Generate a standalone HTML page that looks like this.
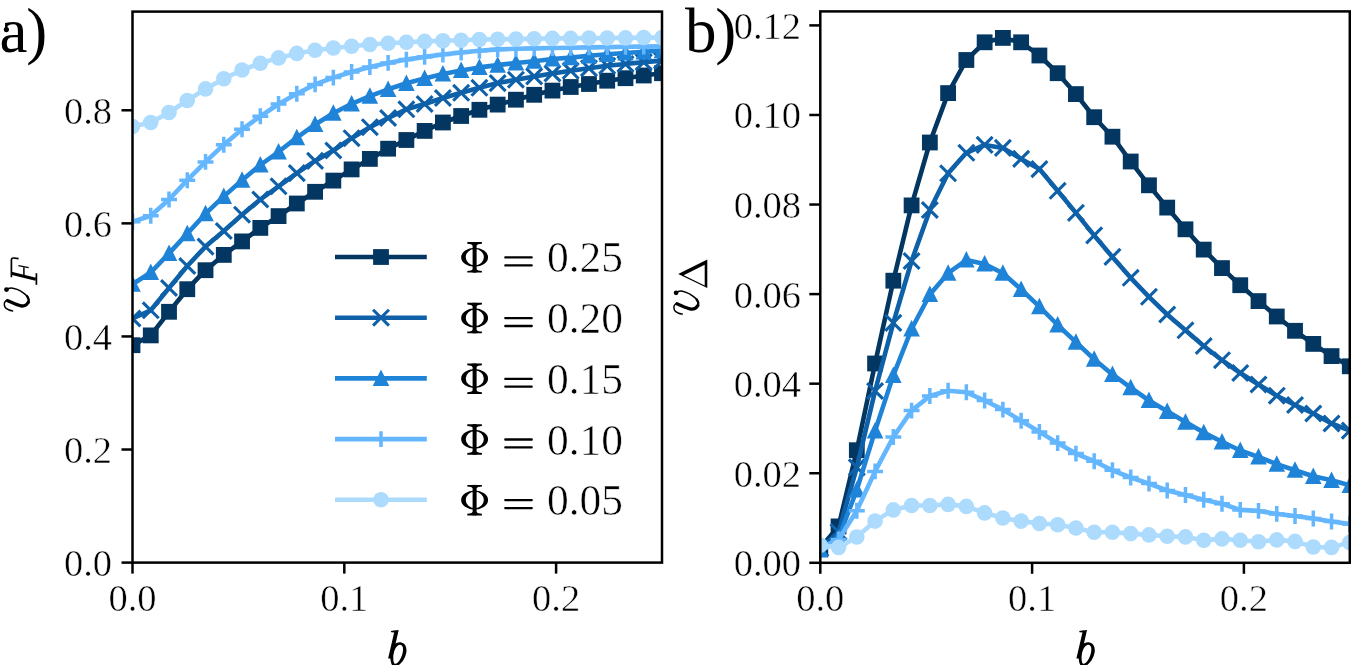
<!DOCTYPE html>
<html><head><meta charset="utf-8"><style>html,body{margin:0;padding:0;background:#fff;overflow:hidden}
svg{display:block;will-change:transform}
text{font-family:"Liberation Serif",serif;fill:#000}
.t{font-size:38.5px;stroke:#fff;stroke-width:0.5px}
.lg{font-size:43.5px;stroke:#fff;stroke-width:0.55px}
.pl{font-size:63px;letter-spacing:-1.2px}
.al{font-size:55px;font-style:italic}
.sub{font-size:40px;font-style:italic}
.subr{font-size:40px}
</style></head><body>
<svg width="1351" height="665" viewBox="0 0 1351 665">
<defs><clipPath id="ca"><rect x="132.5" y="11.6" width="529.5" height="551"/></clipPath>
<clipPath id="cb"><rect x="820.3" y="11.4" width="529.5" height="551.4"/></clipPath></defs>
<rect width="1351" height="665" fill="#fff"/>
<g clip-path="url(#ca)">
<polyline points="132.5,345.2 150.76,335.4 169.02,311.8 187.28,289.2 205.53,270.2 223.79,254.9 242.05,241.4 260.31,227.9 278.57,216.1 296.83,203.5 315.09,191.8 333.34,180.6 351.6,169.4 369.86,158.9 388.12,148.7 406.38,140 424.64,130.9 442.9,122.5 461.16,116 479.41,109.8 497.67,104.6 515.93,99.7 534.19,94.8 552.45,90.6 570.71,87 588.97,84 607.22,80.7 625.48,78.2 643.74,75.5 662,73.2" fill="none" stroke="#033661" stroke-width="4.6" stroke-linejoin="round"/>
<rect x="124.6" y="337.3" width="15.8" height="15.8" fill="#033661"/>
<rect x="142.86" y="327.5" width="15.8" height="15.8" fill="#033661"/>
<rect x="161.12" y="303.9" width="15.8" height="15.8" fill="#033661"/>
<rect x="179.38" y="281.3" width="15.8" height="15.8" fill="#033661"/>
<rect x="197.63" y="262.3" width="15.8" height="15.8" fill="#033661"/>
<rect x="215.89" y="247" width="15.8" height="15.8" fill="#033661"/>
<rect x="234.15" y="233.5" width="15.8" height="15.8" fill="#033661"/>
<rect x="252.41" y="220" width="15.8" height="15.8" fill="#033661"/>
<rect x="270.67" y="208.2" width="15.8" height="15.8" fill="#033661"/>
<rect x="288.93" y="195.6" width="15.8" height="15.8" fill="#033661"/>
<rect x="307.19" y="183.9" width="15.8" height="15.8" fill="#033661"/>
<rect x="325.44" y="172.7" width="15.8" height="15.8" fill="#033661"/>
<rect x="343.7" y="161.5" width="15.8" height="15.8" fill="#033661"/>
<rect x="361.96" y="151" width="15.8" height="15.8" fill="#033661"/>
<rect x="380.22" y="140.8" width="15.8" height="15.8" fill="#033661"/>
<rect x="398.48" y="132.1" width="15.8" height="15.8" fill="#033661"/>
<rect x="416.74" y="123" width="15.8" height="15.8" fill="#033661"/>
<rect x="435" y="114.6" width="15.8" height="15.8" fill="#033661"/>
<rect x="453.26" y="108.1" width="15.8" height="15.8" fill="#033661"/>
<rect x="471.51" y="101.9" width="15.8" height="15.8" fill="#033661"/>
<rect x="489.77" y="96.7" width="15.8" height="15.8" fill="#033661"/>
<rect x="508.03" y="91.8" width="15.8" height="15.8" fill="#033661"/>
<rect x="526.29" y="86.9" width="15.8" height="15.8" fill="#033661"/>
<rect x="544.55" y="82.7" width="15.8" height="15.8" fill="#033661"/>
<rect x="562.81" y="79.1" width="15.8" height="15.8" fill="#033661"/>
<rect x="581.07" y="76.1" width="15.8" height="15.8" fill="#033661"/>
<rect x="599.32" y="72.8" width="15.8" height="15.8" fill="#033661"/>
<rect x="617.58" y="70.3" width="15.8" height="15.8" fill="#033661"/>
<rect x="635.84" y="67.6" width="15.8" height="15.8" fill="#033661"/>
<rect x="654.1" y="65.3" width="15.8" height="15.8" fill="#033661"/>
<polyline points="132.5,318.5 150.76,310.3 169.02,288 187.28,266 205.53,246.6 223.79,231 242.05,214.7 260.31,199.5 278.57,186.3 296.83,173.1 315.09,160.9 333.34,150.5 351.6,138.2 369.86,127.2 388.12,118 406.38,109.3 424.64,104 442.9,98 461.16,92.8 479.41,87.8 497.67,83.1 515.93,79.7 534.19,76.4 552.45,73.5 570.71,70.8 588.97,68.2 607.22,65.8 625.48,64 643.74,62.1 662,60.6" fill="none" stroke="#0e60a8" stroke-width="4.6" stroke-linejoin="round"/>
<path d="M124.55 310.55L140.45 326.45M124.55 326.45L140.45 310.55" stroke="#0e60a8" stroke-width="3.1" fill="none"/>
<path d="M142.81 302.35L158.71 318.25M142.81 318.25L158.71 302.35" stroke="#0e60a8" stroke-width="3.1" fill="none"/>
<path d="M161.07 280.05L176.97 295.95M161.07 295.95L176.97 280.05" stroke="#0e60a8" stroke-width="3.1" fill="none"/>
<path d="M179.33 258.05L195.23 273.95M179.33 273.95L195.23 258.05" stroke="#0e60a8" stroke-width="3.1" fill="none"/>
<path d="M197.58 238.65L213.48 254.55M197.58 254.55L213.48 238.65" stroke="#0e60a8" stroke-width="3.1" fill="none"/>
<path d="M215.84 223.05L231.74 238.95M215.84 238.95L231.74 223.05" stroke="#0e60a8" stroke-width="3.1" fill="none"/>
<path d="M234.1 206.75L250 222.65M234.1 222.65L250 206.75" stroke="#0e60a8" stroke-width="3.1" fill="none"/>
<path d="M252.36 191.55L268.26 207.45M252.36 207.45L268.26 191.55" stroke="#0e60a8" stroke-width="3.1" fill="none"/>
<path d="M270.62 178.35L286.52 194.25M270.62 194.25L286.52 178.35" stroke="#0e60a8" stroke-width="3.1" fill="none"/>
<path d="M288.88 165.15L304.78 181.05M288.88 181.05L304.78 165.15" stroke="#0e60a8" stroke-width="3.1" fill="none"/>
<path d="M307.14 152.95L323.04 168.85M307.14 168.85L323.04 152.95" stroke="#0e60a8" stroke-width="3.1" fill="none"/>
<path d="M325.39 142.55L341.29 158.45M325.39 158.45L341.29 142.55" stroke="#0e60a8" stroke-width="3.1" fill="none"/>
<path d="M343.65 130.25L359.55 146.15M343.65 146.15L359.55 130.25" stroke="#0e60a8" stroke-width="3.1" fill="none"/>
<path d="M361.91 119.25L377.81 135.15M361.91 135.15L377.81 119.25" stroke="#0e60a8" stroke-width="3.1" fill="none"/>
<path d="M380.17 110.05L396.07 125.95M380.17 125.95L396.07 110.05" stroke="#0e60a8" stroke-width="3.1" fill="none"/>
<path d="M398.43 101.35L414.33 117.25M398.43 117.25L414.33 101.35" stroke="#0e60a8" stroke-width="3.1" fill="none"/>
<path d="M416.69 96.05L432.59 111.95M416.69 111.95L432.59 96.05" stroke="#0e60a8" stroke-width="3.1" fill="none"/>
<path d="M434.95 90.05L450.85 105.95M434.95 105.95L450.85 90.05" stroke="#0e60a8" stroke-width="3.1" fill="none"/>
<path d="M453.21 84.85L469.11 100.75M453.21 100.75L469.11 84.85" stroke="#0e60a8" stroke-width="3.1" fill="none"/>
<path d="M471.46 79.85L487.36 95.75M471.46 95.75L487.36 79.85" stroke="#0e60a8" stroke-width="3.1" fill="none"/>
<path d="M489.72 75.15L505.62 91.05M489.72 91.05L505.62 75.15" stroke="#0e60a8" stroke-width="3.1" fill="none"/>
<path d="M507.98 71.75L523.88 87.65M507.98 87.65L523.88 71.75" stroke="#0e60a8" stroke-width="3.1" fill="none"/>
<path d="M526.24 68.45L542.14 84.35M526.24 84.35L542.14 68.45" stroke="#0e60a8" stroke-width="3.1" fill="none"/>
<path d="M544.5 65.55L560.4 81.45M544.5 81.45L560.4 65.55" stroke="#0e60a8" stroke-width="3.1" fill="none"/>
<path d="M562.76 62.85L578.66 78.75M562.76 78.75L578.66 62.85" stroke="#0e60a8" stroke-width="3.1" fill="none"/>
<path d="M581.02 60.25L596.92 76.15M581.02 76.15L596.92 60.25" stroke="#0e60a8" stroke-width="3.1" fill="none"/>
<path d="M599.27 57.85L615.17 73.75M599.27 73.75L615.17 57.85" stroke="#0e60a8" stroke-width="3.1" fill="none"/>
<path d="M617.53 56.05L633.43 71.95M617.53 71.95L633.43 56.05" stroke="#0e60a8" stroke-width="3.1" fill="none"/>
<path d="M635.79 54.15L651.69 70.05M635.79 70.05L651.69 54.15" stroke="#0e60a8" stroke-width="3.1" fill="none"/>
<path d="M654.05 52.65L669.95 68.55M654.05 68.55L669.95 52.65" stroke="#0e60a8" stroke-width="3.1" fill="none"/>
<polyline points="132.5,284.2 150.76,272.5 169.02,253.3 187.28,233.6 205.53,213.7 223.79,196.4 242.05,180.2 260.31,165 278.57,151.8 296.83,137.6 315.09,124.5 333.34,113.2 351.6,103.8 369.86,96.1 388.12,89.3 406.38,83.3 424.64,78.4 442.9,74 461.16,70.5 479.41,67.4 497.67,65.1 515.93,63 534.19,61.2 552.45,59 570.71,57.6 588.97,55.8 607.22,54.3 625.48,53 643.74,51.8 662,50.6" fill="none" stroke="#1f83d8" stroke-width="4.6" stroke-linejoin="round"/>
<path d="M132.5 275.3L140.8 291.8L124.2 291.8Z" fill="#1f83d8"/>
<path d="M150.76 263.6L159.06 280.1L142.46 280.1Z" fill="#1f83d8"/>
<path d="M169.02 244.4L177.32 260.9L160.72 260.9Z" fill="#1f83d8"/>
<path d="M187.28 224.7L195.58 241.2L178.98 241.2Z" fill="#1f83d8"/>
<path d="M205.53 204.8L213.83 221.3L197.23 221.3Z" fill="#1f83d8"/>
<path d="M223.79 187.5L232.09 204L215.49 204Z" fill="#1f83d8"/>
<path d="M242.05 171.3L250.35 187.8L233.75 187.8Z" fill="#1f83d8"/>
<path d="M260.31 156.1L268.61 172.6L252.01 172.6Z" fill="#1f83d8"/>
<path d="M278.57 142.9L286.87 159.4L270.27 159.4Z" fill="#1f83d8"/>
<path d="M296.83 128.7L305.13 145.2L288.53 145.2Z" fill="#1f83d8"/>
<path d="M315.09 115.6L323.39 132.1L306.79 132.1Z" fill="#1f83d8"/>
<path d="M333.34 104.3L341.64 120.8L325.04 120.8Z" fill="#1f83d8"/>
<path d="M351.6 94.9L359.9 111.4L343.3 111.4Z" fill="#1f83d8"/>
<path d="M369.86 87.2L378.16 103.7L361.56 103.7Z" fill="#1f83d8"/>
<path d="M388.12 80.4L396.42 96.9L379.82 96.9Z" fill="#1f83d8"/>
<path d="M406.38 74.4L414.68 90.9L398.08 90.9Z" fill="#1f83d8"/>
<path d="M424.64 69.5L432.94 86L416.34 86Z" fill="#1f83d8"/>
<path d="M442.9 65.1L451.2 81.6L434.6 81.6Z" fill="#1f83d8"/>
<path d="M461.16 61.6L469.46 78.1L452.86 78.1Z" fill="#1f83d8"/>
<path d="M479.41 58.5L487.71 75L471.11 75Z" fill="#1f83d8"/>
<path d="M497.67 56.2L505.97 72.7L489.37 72.7Z" fill="#1f83d8"/>
<path d="M515.93 54.1L524.23 70.6L507.63 70.6Z" fill="#1f83d8"/>
<path d="M534.19 52.3L542.49 68.8L525.89 68.8Z" fill="#1f83d8"/>
<path d="M552.45 50.1L560.75 66.6L544.15 66.6Z" fill="#1f83d8"/>
<path d="M570.71 48.7L579.01 65.2L562.41 65.2Z" fill="#1f83d8"/>
<path d="M588.97 46.9L597.27 63.4L580.67 63.4Z" fill="#1f83d8"/>
<path d="M607.22 45.4L615.52 61.9L598.92 61.9Z" fill="#1f83d8"/>
<path d="M625.48 44.1L633.78 60.6L617.18 60.6Z" fill="#1f83d8"/>
<path d="M643.74 42.9L652.04 59.4L635.44 59.4Z" fill="#1f83d8"/>
<path d="M662 41.7L670.3 58.2L653.7 58.2Z" fill="#1f83d8"/>
<polyline points="132.5,221.8 150.76,215.7 169.02,199.5 187.28,180.2 205.53,161.9 223.79,144.7 242.05,129.3 260.31,116.3 278.57,104 296.83,93.8 315.09,84.4 333.34,77.6 351.6,72 369.86,67 388.12,62.9 406.38,59.6 424.64,56.9 442.9,54.5 461.16,52.5 479.41,50.8 497.67,49.4 515.93,48.8 534.19,48.4 552.45,48 570.71,47.7 588.97,47.4 607.22,47.1 625.48,46.8 643.74,46.6 662,46.4" fill="none" stroke="#64b6fe" stroke-width="4.6" stroke-linejoin="round"/>
<path d="M124.55 221.8L140.45 221.8M132.5 213.85L132.5 229.75" stroke="#64b6fe" stroke-width="3.5" fill="none"/>
<path d="M142.81 215.7L158.71 215.7M150.76 207.75L150.76 223.65" stroke="#64b6fe" stroke-width="3.5" fill="none"/>
<path d="M161.07 199.5L176.97 199.5M169.02 191.55L169.02 207.45" stroke="#64b6fe" stroke-width="3.5" fill="none"/>
<path d="M179.33 180.2L195.23 180.2M187.28 172.25L187.28 188.15" stroke="#64b6fe" stroke-width="3.5" fill="none"/>
<path d="M197.58 161.9L213.48 161.9M205.53 153.95L205.53 169.85" stroke="#64b6fe" stroke-width="3.5" fill="none"/>
<path d="M215.84 144.7L231.74 144.7M223.79 136.75L223.79 152.65" stroke="#64b6fe" stroke-width="3.5" fill="none"/>
<path d="M234.1 129.3L250 129.3M242.05 121.35L242.05 137.25" stroke="#64b6fe" stroke-width="3.5" fill="none"/>
<path d="M252.36 116.3L268.26 116.3M260.31 108.35L260.31 124.25" stroke="#64b6fe" stroke-width="3.5" fill="none"/>
<path d="M270.62 104L286.52 104M278.57 96.05L278.57 111.95" stroke="#64b6fe" stroke-width="3.5" fill="none"/>
<path d="M288.88 93.8L304.78 93.8M296.83 85.85L296.83 101.75" stroke="#64b6fe" stroke-width="3.5" fill="none"/>
<path d="M307.14 84.4L323.04 84.4M315.09 76.45L315.09 92.35" stroke="#64b6fe" stroke-width="3.5" fill="none"/>
<path d="M325.39 77.6L341.29 77.6M333.34 69.65L333.34 85.55" stroke="#64b6fe" stroke-width="3.5" fill="none"/>
<path d="M343.65 72L359.55 72M351.6 64.05L351.6 79.95" stroke="#64b6fe" stroke-width="3.5" fill="none"/>
<path d="M361.91 67L377.81 67M369.86 59.05L369.86 74.95" stroke="#64b6fe" stroke-width="3.5" fill="none"/>
<path d="M380.17 62.9L396.07 62.9M388.12 54.95L388.12 70.85" stroke="#64b6fe" stroke-width="3.5" fill="none"/>
<path d="M398.43 59.6L414.33 59.6M406.38 51.65L406.38 67.55" stroke="#64b6fe" stroke-width="3.5" fill="none"/>
<path d="M416.69 56.9L432.59 56.9M424.64 48.95L424.64 64.85" stroke="#64b6fe" stroke-width="3.5" fill="none"/>
<path d="M434.95 54.5L450.85 54.5M442.9 46.55L442.9 62.45" stroke="#64b6fe" stroke-width="3.5" fill="none"/>
<path d="M453.21 52.5L469.11 52.5M461.16 44.55L461.16 60.45" stroke="#64b6fe" stroke-width="3.5" fill="none"/>
<path d="M471.46 50.8L487.36 50.8M479.41 42.85L479.41 58.75" stroke="#64b6fe" stroke-width="3.5" fill="none"/>
<path d="M489.72 49.4L505.62 49.4M497.67 41.45L497.67 57.35" stroke="#64b6fe" stroke-width="3.5" fill="none"/>
<path d="M507.98 48.8L523.88 48.8M515.93 40.85L515.93 56.75" stroke="#64b6fe" stroke-width="3.5" fill="none"/>
<path d="M526.24 48.4L542.14 48.4M534.19 40.45L534.19 56.35" stroke="#64b6fe" stroke-width="3.5" fill="none"/>
<path d="M544.5 48L560.4 48M552.45 40.05L552.45 55.95" stroke="#64b6fe" stroke-width="3.5" fill="none"/>
<path d="M562.76 47.7L578.66 47.7M570.71 39.75L570.71 55.65" stroke="#64b6fe" stroke-width="3.5" fill="none"/>
<path d="M581.02 47.4L596.92 47.4M588.97 39.45L588.97 55.35" stroke="#64b6fe" stroke-width="3.5" fill="none"/>
<path d="M599.27 47.1L615.17 47.1M607.22 39.15L607.22 55.05" stroke="#64b6fe" stroke-width="3.5" fill="none"/>
<path d="M617.53 46.8L633.43 46.8M625.48 38.85L625.48 54.75" stroke="#64b6fe" stroke-width="3.5" fill="none"/>
<path d="M635.79 46.6L651.69 46.6M643.74 38.65L643.74 54.55" stroke="#64b6fe" stroke-width="3.5" fill="none"/>
<path d="M654.05 46.4L669.95 46.4M662 38.45L662 54.35" stroke="#64b6fe" stroke-width="3.5" fill="none"/>
<polyline points="132.5,126.6 150.76,122.5 169.02,112.5 187.28,100.5 205.53,88.9 223.79,78.8 242.05,70 260.31,63.3 278.57,57.9 296.83,53.4 315.09,50.3 333.34,48 351.6,46.2 369.86,44.5 388.12,43.3 406.38,42.3 424.64,41.4 442.9,40.7 461.16,40.2 479.41,39.5 497.67,39.2 515.93,39.1 534.19,38.7 552.45,38.4 570.71,38.4 588.97,38.1 607.22,38.1 625.48,37.9 643.74,37.6 662,37.6" fill="none" stroke="#acdbfe" stroke-width="4.6" stroke-linejoin="round"/>
<circle cx="132.5" cy="126.6" r="7.8" fill="#acdbfe"/>
<circle cx="150.76" cy="122.5" r="7.8" fill="#acdbfe"/>
<circle cx="169.02" cy="112.5" r="7.8" fill="#acdbfe"/>
<circle cx="187.28" cy="100.5" r="7.8" fill="#acdbfe"/>
<circle cx="205.53" cy="88.9" r="7.8" fill="#acdbfe"/>
<circle cx="223.79" cy="78.8" r="7.8" fill="#acdbfe"/>
<circle cx="242.05" cy="70" r="7.8" fill="#acdbfe"/>
<circle cx="260.31" cy="63.3" r="7.8" fill="#acdbfe"/>
<circle cx="278.57" cy="57.9" r="7.8" fill="#acdbfe"/>
<circle cx="296.83" cy="53.4" r="7.8" fill="#acdbfe"/>
<circle cx="315.09" cy="50.3" r="7.8" fill="#acdbfe"/>
<circle cx="333.34" cy="48" r="7.8" fill="#acdbfe"/>
<circle cx="351.6" cy="46.2" r="7.8" fill="#acdbfe"/>
<circle cx="369.86" cy="44.5" r="7.8" fill="#acdbfe"/>
<circle cx="388.12" cy="43.3" r="7.8" fill="#acdbfe"/>
<circle cx="406.38" cy="42.3" r="7.8" fill="#acdbfe"/>
<circle cx="424.64" cy="41.4" r="7.8" fill="#acdbfe"/>
<circle cx="442.9" cy="40.7" r="7.8" fill="#acdbfe"/>
<circle cx="461.16" cy="40.2" r="7.8" fill="#acdbfe"/>
<circle cx="479.41" cy="39.5" r="7.8" fill="#acdbfe"/>
<circle cx="497.67" cy="39.2" r="7.8" fill="#acdbfe"/>
<circle cx="515.93" cy="39.1" r="7.8" fill="#acdbfe"/>
<circle cx="534.19" cy="38.7" r="7.8" fill="#acdbfe"/>
<circle cx="552.45" cy="38.4" r="7.8" fill="#acdbfe"/>
<circle cx="570.71" cy="38.4" r="7.8" fill="#acdbfe"/>
<circle cx="588.97" cy="38.1" r="7.8" fill="#acdbfe"/>
<circle cx="607.22" cy="38.1" r="7.8" fill="#acdbfe"/>
<circle cx="625.48" cy="37.9" r="7.8" fill="#acdbfe"/>
<circle cx="643.74" cy="37.6" r="7.8" fill="#acdbfe"/>
<circle cx="662" cy="37.6" r="7.8" fill="#acdbfe"/>
</g>
<g clip-path="url(#cb)">
<polyline points="820.3,548 838.56,526.4 856.82,450.2 875.08,363.5 893.33,280.7 911.59,205.4 929.85,142.5 948.11,93.1 966.37,60 984.63,42.3 1002.89,37.9 1021.14,42.3 1039.4,55.5 1057.66,73.2 1075.92,94.1 1094.18,117.2 1112.44,136.7 1130.7,161.5 1148.96,185.3 1167.21,207.6 1185.47,229.3 1203.73,249.6 1221.99,268.1 1240.25,285.2 1258.51,301.1 1276.77,316.5 1295.02,330.8 1313.28,343.9 1331.54,356.1 1349.8,366.3" fill="none" stroke="#033661" stroke-width="4.6" stroke-linejoin="round"/>
<rect x="812.4" y="540.1" width="15.8" height="15.8" fill="#033661"/>
<rect x="830.66" y="518.5" width="15.8" height="15.8" fill="#033661"/>
<rect x="848.92" y="442.3" width="15.8" height="15.8" fill="#033661"/>
<rect x="867.18" y="355.6" width="15.8" height="15.8" fill="#033661"/>
<rect x="885.43" y="272.8" width="15.8" height="15.8" fill="#033661"/>
<rect x="903.69" y="197.5" width="15.8" height="15.8" fill="#033661"/>
<rect x="921.95" y="134.6" width="15.8" height="15.8" fill="#033661"/>
<rect x="940.21" y="85.2" width="15.8" height="15.8" fill="#033661"/>
<rect x="958.47" y="52.1" width="15.8" height="15.8" fill="#033661"/>
<rect x="976.73" y="34.4" width="15.8" height="15.8" fill="#033661"/>
<rect x="994.99" y="30" width="15.8" height="15.8" fill="#033661"/>
<rect x="1013.24" y="34.4" width="15.8" height="15.8" fill="#033661"/>
<rect x="1031.5" y="47.6" width="15.8" height="15.8" fill="#033661"/>
<rect x="1049.76" y="65.3" width="15.8" height="15.8" fill="#033661"/>
<rect x="1068.02" y="86.2" width="15.8" height="15.8" fill="#033661"/>
<rect x="1086.28" y="109.3" width="15.8" height="15.8" fill="#033661"/>
<rect x="1104.54" y="128.8" width="15.8" height="15.8" fill="#033661"/>
<rect x="1122.8" y="153.6" width="15.8" height="15.8" fill="#033661"/>
<rect x="1141.06" y="177.4" width="15.8" height="15.8" fill="#033661"/>
<rect x="1159.31" y="199.7" width="15.8" height="15.8" fill="#033661"/>
<rect x="1177.57" y="221.4" width="15.8" height="15.8" fill="#033661"/>
<rect x="1195.83" y="241.7" width="15.8" height="15.8" fill="#033661"/>
<rect x="1214.09" y="260.2" width="15.8" height="15.8" fill="#033661"/>
<rect x="1232.35" y="277.3" width="15.8" height="15.8" fill="#033661"/>
<rect x="1250.61" y="293.2" width="15.8" height="15.8" fill="#033661"/>
<rect x="1268.87" y="308.6" width="15.8" height="15.8" fill="#033661"/>
<rect x="1287.12" y="322.9" width="15.8" height="15.8" fill="#033661"/>
<rect x="1305.38" y="336" width="15.8" height="15.8" fill="#033661"/>
<rect x="1323.64" y="348.2" width="15.8" height="15.8" fill="#033661"/>
<rect x="1341.9" y="358.4" width="15.8" height="15.8" fill="#033661"/>
<polyline points="820.3,548.5 838.56,532 856.82,467.4 875.08,391 893.33,322.9 911.59,261 929.85,210 948.11,173.3 966.37,152.8 984.63,144.9 1002.89,147.9 1021.14,158.9 1039.4,169.1 1057.66,190.8 1075.92,212.9 1094.18,235.4 1112.44,256.9 1130.7,277.8 1148.96,296.8 1167.21,314.5 1185.47,330.3 1203.73,346 1221.99,360.2 1240.25,373 1258.51,384.5 1276.77,395.7 1295.02,405 1313.28,413.5 1331.54,423.5 1349.8,430.6" fill="none" stroke="#0e60a8" stroke-width="4.6" stroke-linejoin="round"/>
<path d="M812.35 540.55L828.25 556.45M812.35 556.45L828.25 540.55" stroke="#0e60a8" stroke-width="3.1" fill="none"/>
<path d="M830.61 524.05L846.51 539.95M830.61 539.95L846.51 524.05" stroke="#0e60a8" stroke-width="3.1" fill="none"/>
<path d="M848.87 459.45L864.77 475.35M848.87 475.35L864.77 459.45" stroke="#0e60a8" stroke-width="3.1" fill="none"/>
<path d="M867.13 383.05L883.03 398.95M867.13 398.95L883.03 383.05" stroke="#0e60a8" stroke-width="3.1" fill="none"/>
<path d="M885.38 314.95L901.28 330.85M885.38 330.85L901.28 314.95" stroke="#0e60a8" stroke-width="3.1" fill="none"/>
<path d="M903.64 253.05L919.54 268.95M903.64 268.95L919.54 253.05" stroke="#0e60a8" stroke-width="3.1" fill="none"/>
<path d="M921.9 202.05L937.8 217.95M921.9 217.95L937.8 202.05" stroke="#0e60a8" stroke-width="3.1" fill="none"/>
<path d="M940.16 165.35L956.06 181.25M940.16 181.25L956.06 165.35" stroke="#0e60a8" stroke-width="3.1" fill="none"/>
<path d="M958.42 144.85L974.32 160.75M958.42 160.75L974.32 144.85" stroke="#0e60a8" stroke-width="3.1" fill="none"/>
<path d="M976.68 136.95L992.58 152.85M976.68 152.85L992.58 136.95" stroke="#0e60a8" stroke-width="3.1" fill="none"/>
<path d="M994.94 139.95L1010.84 155.85M994.94 155.85L1010.84 139.95" stroke="#0e60a8" stroke-width="3.1" fill="none"/>
<path d="M1013.19 150.95L1029.09 166.85M1013.19 166.85L1029.09 150.95" stroke="#0e60a8" stroke-width="3.1" fill="none"/>
<path d="M1031.45 161.15L1047.35 177.05M1031.45 177.05L1047.35 161.15" stroke="#0e60a8" stroke-width="3.1" fill="none"/>
<path d="M1049.71 182.85L1065.61 198.75M1049.71 198.75L1065.61 182.85" stroke="#0e60a8" stroke-width="3.1" fill="none"/>
<path d="M1067.97 204.95L1083.87 220.85M1067.97 220.85L1083.87 204.95" stroke="#0e60a8" stroke-width="3.1" fill="none"/>
<path d="M1086.23 227.45L1102.13 243.35M1086.23 243.35L1102.13 227.45" stroke="#0e60a8" stroke-width="3.1" fill="none"/>
<path d="M1104.49 248.95L1120.39 264.85M1104.49 264.85L1120.39 248.95" stroke="#0e60a8" stroke-width="3.1" fill="none"/>
<path d="M1122.75 269.85L1138.65 285.75M1122.75 285.75L1138.65 269.85" stroke="#0e60a8" stroke-width="3.1" fill="none"/>
<path d="M1141.01 288.85L1156.91 304.75M1141.01 304.75L1156.91 288.85" stroke="#0e60a8" stroke-width="3.1" fill="none"/>
<path d="M1159.26 306.55L1175.16 322.45M1159.26 322.45L1175.16 306.55" stroke="#0e60a8" stroke-width="3.1" fill="none"/>
<path d="M1177.52 322.35L1193.42 338.25M1177.52 338.25L1193.42 322.35" stroke="#0e60a8" stroke-width="3.1" fill="none"/>
<path d="M1195.78 338.05L1211.68 353.95M1195.78 353.95L1211.68 338.05" stroke="#0e60a8" stroke-width="3.1" fill="none"/>
<path d="M1214.04 352.25L1229.94 368.15M1214.04 368.15L1229.94 352.25" stroke="#0e60a8" stroke-width="3.1" fill="none"/>
<path d="M1232.3 365.05L1248.2 380.95M1232.3 380.95L1248.2 365.05" stroke="#0e60a8" stroke-width="3.1" fill="none"/>
<path d="M1250.56 376.55L1266.46 392.45M1250.56 392.45L1266.46 376.55" stroke="#0e60a8" stroke-width="3.1" fill="none"/>
<path d="M1268.82 387.75L1284.72 403.65M1268.82 403.65L1284.72 387.75" stroke="#0e60a8" stroke-width="3.1" fill="none"/>
<path d="M1287.07 397.05L1302.97 412.95M1287.07 412.95L1302.97 397.05" stroke="#0e60a8" stroke-width="3.1" fill="none"/>
<path d="M1305.33 405.55L1321.23 421.45M1305.33 421.45L1321.23 405.55" stroke="#0e60a8" stroke-width="3.1" fill="none"/>
<path d="M1323.59 415.55L1339.49 431.45M1323.59 431.45L1339.49 415.55" stroke="#0e60a8" stroke-width="3.1" fill="none"/>
<path d="M1341.85 422.65L1357.75 438.55M1341.85 438.55L1357.75 422.65" stroke="#0e60a8" stroke-width="3.1" fill="none"/>
<polyline points="820.3,550 838.56,538 856.82,489.8 875.08,430.9 893.33,375.4 911.59,329 929.85,294.5 948.11,273.2 966.37,260 984.63,264 1002.89,273.2 1021.14,289.4 1039.4,306.7 1057.66,325 1075.92,342.2 1094.18,359.2 1112.44,374.4 1130.7,387.6 1148.96,400.5 1167.21,411.3 1185.47,422.1 1203.73,432.6 1221.99,441.8 1240.25,450.5 1258.51,457 1276.77,464.1 1295.02,470.2 1313.28,476.3 1331.54,480.3 1349.8,485.4" fill="none" stroke="#1f83d8" stroke-width="4.6" stroke-linejoin="round"/>
<path d="M820.3 541.1L828.6 557.6L812 557.6Z" fill="#1f83d8"/>
<path d="M838.56 529.1L846.86 545.6L830.26 545.6Z" fill="#1f83d8"/>
<path d="M856.82 480.9L865.12 497.4L848.52 497.4Z" fill="#1f83d8"/>
<path d="M875.08 422L883.38 438.5L866.78 438.5Z" fill="#1f83d8"/>
<path d="M893.33 366.5L901.63 383L885.03 383Z" fill="#1f83d8"/>
<path d="M911.59 320.1L919.89 336.6L903.29 336.6Z" fill="#1f83d8"/>
<path d="M929.85 285.6L938.15 302.1L921.55 302.1Z" fill="#1f83d8"/>
<path d="M948.11 264.3L956.41 280.8L939.81 280.8Z" fill="#1f83d8"/>
<path d="M966.37 251.1L974.67 267.6L958.07 267.6Z" fill="#1f83d8"/>
<path d="M984.63 255.1L992.93 271.6L976.33 271.6Z" fill="#1f83d8"/>
<path d="M1002.89 264.3L1011.19 280.8L994.59 280.8Z" fill="#1f83d8"/>
<path d="M1021.14 280.5L1029.44 297L1012.84 297Z" fill="#1f83d8"/>
<path d="M1039.4 297.8L1047.7 314.3L1031.1 314.3Z" fill="#1f83d8"/>
<path d="M1057.66 316.1L1065.96 332.6L1049.36 332.6Z" fill="#1f83d8"/>
<path d="M1075.92 333.3L1084.22 349.8L1067.62 349.8Z" fill="#1f83d8"/>
<path d="M1094.18 350.3L1102.48 366.8L1085.88 366.8Z" fill="#1f83d8"/>
<path d="M1112.44 365.5L1120.74 382L1104.14 382Z" fill="#1f83d8"/>
<path d="M1130.7 378.7L1139 395.2L1122.4 395.2Z" fill="#1f83d8"/>
<path d="M1148.96 391.6L1157.26 408.1L1140.66 408.1Z" fill="#1f83d8"/>
<path d="M1167.21 402.4L1175.51 418.9L1158.91 418.9Z" fill="#1f83d8"/>
<path d="M1185.47 413.2L1193.77 429.7L1177.17 429.7Z" fill="#1f83d8"/>
<path d="M1203.73 423.7L1212.03 440.2L1195.43 440.2Z" fill="#1f83d8"/>
<path d="M1221.99 432.9L1230.29 449.4L1213.69 449.4Z" fill="#1f83d8"/>
<path d="M1240.25 441.6L1248.55 458.1L1231.95 458.1Z" fill="#1f83d8"/>
<path d="M1258.51 448.1L1266.81 464.6L1250.21 464.6Z" fill="#1f83d8"/>
<path d="M1276.77 455.2L1285.07 471.7L1268.47 471.7Z" fill="#1f83d8"/>
<path d="M1295.02 461.3L1303.32 477.8L1286.72 477.8Z" fill="#1f83d8"/>
<path d="M1313.28 467.4L1321.58 483.9L1304.98 483.9Z" fill="#1f83d8"/>
<path d="M1331.54 471.4L1339.84 487.9L1323.24 487.9Z" fill="#1f83d8"/>
<path d="M1349.8 476.5L1358.1 493L1341.5 493Z" fill="#1f83d8"/>
<polyline points="820.3,548 838.56,539.5 856.82,510.7 875.08,471.4 893.33,437 911.59,410.6 929.85,396 948.11,390.7 966.37,392.3 984.63,400.5 1002.89,409.6 1021.14,420.8 1039.4,431.9 1057.66,443.1 1075.92,453.6 1094.18,461.2 1112.44,470.3 1130.7,477.5 1148.96,483.6 1167.21,490.5 1185.47,495 1203.73,499.8 1221.99,503.8 1240.25,509.9 1258.51,510.9 1276.77,513.9 1295.02,516 1313.28,518.5 1331.54,521.5 1349.8,524" fill="none" stroke="#64b6fe" stroke-width="4.6" stroke-linejoin="round"/>
<path d="M812.35 548L828.25 548M820.3 540.05L820.3 555.95" stroke="#64b6fe" stroke-width="3.5" fill="none"/>
<path d="M830.61 539.5L846.51 539.5M838.56 531.55L838.56 547.45" stroke="#64b6fe" stroke-width="3.5" fill="none"/>
<path d="M848.87 510.7L864.77 510.7M856.82 502.75L856.82 518.65" stroke="#64b6fe" stroke-width="3.5" fill="none"/>
<path d="M867.13 471.4L883.03 471.4M875.08 463.45L875.08 479.35" stroke="#64b6fe" stroke-width="3.5" fill="none"/>
<path d="M885.38 437L901.28 437M893.33 429.05L893.33 444.95" stroke="#64b6fe" stroke-width="3.5" fill="none"/>
<path d="M903.64 410.6L919.54 410.6M911.59 402.65L911.59 418.55" stroke="#64b6fe" stroke-width="3.5" fill="none"/>
<path d="M921.9 396L937.8 396M929.85 388.05L929.85 403.95" stroke="#64b6fe" stroke-width="3.5" fill="none"/>
<path d="M940.16 390.7L956.06 390.7M948.11 382.75L948.11 398.65" stroke="#64b6fe" stroke-width="3.5" fill="none"/>
<path d="M958.42 392.3L974.32 392.3M966.37 384.35L966.37 400.25" stroke="#64b6fe" stroke-width="3.5" fill="none"/>
<path d="M976.68 400.5L992.58 400.5M984.63 392.55L984.63 408.45" stroke="#64b6fe" stroke-width="3.5" fill="none"/>
<path d="M994.94 409.6L1010.84 409.6M1002.89 401.65L1002.89 417.55" stroke="#64b6fe" stroke-width="3.5" fill="none"/>
<path d="M1013.19 420.8L1029.09 420.8M1021.14 412.85L1021.14 428.75" stroke="#64b6fe" stroke-width="3.5" fill="none"/>
<path d="M1031.45 431.9L1047.35 431.9M1039.4 423.95L1039.4 439.85" stroke="#64b6fe" stroke-width="3.5" fill="none"/>
<path d="M1049.71 443.1L1065.61 443.1M1057.66 435.15L1057.66 451.05" stroke="#64b6fe" stroke-width="3.5" fill="none"/>
<path d="M1067.97 453.6L1083.87 453.6M1075.92 445.65L1075.92 461.55" stroke="#64b6fe" stroke-width="3.5" fill="none"/>
<path d="M1086.23 461.2L1102.13 461.2M1094.18 453.25L1094.18 469.15" stroke="#64b6fe" stroke-width="3.5" fill="none"/>
<path d="M1104.49 470.3L1120.39 470.3M1112.44 462.35L1112.44 478.25" stroke="#64b6fe" stroke-width="3.5" fill="none"/>
<path d="M1122.75 477.5L1138.65 477.5M1130.7 469.55L1130.7 485.45" stroke="#64b6fe" stroke-width="3.5" fill="none"/>
<path d="M1141.01 483.6L1156.91 483.6M1148.96 475.65L1148.96 491.55" stroke="#64b6fe" stroke-width="3.5" fill="none"/>
<path d="M1159.26 490.5L1175.16 490.5M1167.21 482.55L1167.21 498.45" stroke="#64b6fe" stroke-width="3.5" fill="none"/>
<path d="M1177.52 495L1193.42 495M1185.47 487.05L1185.47 502.95" stroke="#64b6fe" stroke-width="3.5" fill="none"/>
<path d="M1195.78 499.8L1211.68 499.8M1203.73 491.85L1203.73 507.75" stroke="#64b6fe" stroke-width="3.5" fill="none"/>
<path d="M1214.04 503.8L1229.94 503.8M1221.99 495.85L1221.99 511.75" stroke="#64b6fe" stroke-width="3.5" fill="none"/>
<path d="M1232.3 509.9L1248.2 509.9M1240.25 501.95L1240.25 517.85" stroke="#64b6fe" stroke-width="3.5" fill="none"/>
<path d="M1250.56 510.9L1266.46 510.9M1258.51 502.95L1258.51 518.85" stroke="#64b6fe" stroke-width="3.5" fill="none"/>
<path d="M1268.82 513.9L1284.72 513.9M1276.77 505.95L1276.77 521.85" stroke="#64b6fe" stroke-width="3.5" fill="none"/>
<path d="M1287.07 516L1302.97 516M1295.02 508.05L1295.02 523.95" stroke="#64b6fe" stroke-width="3.5" fill="none"/>
<path d="M1305.33 518.5L1321.23 518.5M1313.28 510.55L1313.28 526.45" stroke="#64b6fe" stroke-width="3.5" fill="none"/>
<path d="M1323.59 521.5L1339.49 521.5M1331.54 513.55L1331.54 529.45" stroke="#64b6fe" stroke-width="3.5" fill="none"/>
<path d="M1341.85 524L1357.75 524M1349.8 516.05L1349.8 531.95" stroke="#64b6fe" stroke-width="3.5" fill="none"/>
<polyline points="820.3,545.2 838.56,547.4 856.82,537 875.08,521.1 893.33,509.9 911.59,505.5 929.85,505.5 948.11,504.4 966.37,506.4 984.63,512.9 1002.89,518 1021.14,521.1 1039.4,523.5 1057.66,524.7 1075.92,528 1094.18,532.2 1112.44,532.2 1130.7,533.6 1148.96,534.9 1167.21,536.3 1185.47,536.9 1203.73,540.3 1221.99,538.9 1240.25,540.3 1258.51,541.8 1276.77,539.9 1295.02,541.4 1313.28,547 1331.54,547.4 1349.8,542.4" fill="none" stroke="#acdbfe" stroke-width="4.6" stroke-linejoin="round"/>
<circle cx="820.3" cy="545.2" r="7.8" fill="#acdbfe"/>
<circle cx="838.56" cy="547.4" r="7.8" fill="#acdbfe"/>
<circle cx="856.82" cy="537" r="7.8" fill="#acdbfe"/>
<circle cx="875.08" cy="521.1" r="7.8" fill="#acdbfe"/>
<circle cx="893.33" cy="509.9" r="7.8" fill="#acdbfe"/>
<circle cx="911.59" cy="505.5" r="7.8" fill="#acdbfe"/>
<circle cx="929.85" cy="505.5" r="7.8" fill="#acdbfe"/>
<circle cx="948.11" cy="504.4" r="7.8" fill="#acdbfe"/>
<circle cx="966.37" cy="506.4" r="7.8" fill="#acdbfe"/>
<circle cx="984.63" cy="512.9" r="7.8" fill="#acdbfe"/>
<circle cx="1002.89" cy="518" r="7.8" fill="#acdbfe"/>
<circle cx="1021.14" cy="521.1" r="7.8" fill="#acdbfe"/>
<circle cx="1039.4" cy="523.5" r="7.8" fill="#acdbfe"/>
<circle cx="1057.66" cy="524.7" r="7.8" fill="#acdbfe"/>
<circle cx="1075.92" cy="528" r="7.8" fill="#acdbfe"/>
<circle cx="1094.18" cy="532.2" r="7.8" fill="#acdbfe"/>
<circle cx="1112.44" cy="532.2" r="7.8" fill="#acdbfe"/>
<circle cx="1130.7" cy="533.6" r="7.8" fill="#acdbfe"/>
<circle cx="1148.96" cy="534.9" r="7.8" fill="#acdbfe"/>
<circle cx="1167.21" cy="536.3" r="7.8" fill="#acdbfe"/>
<circle cx="1185.47" cy="536.9" r="7.8" fill="#acdbfe"/>
<circle cx="1203.73" cy="540.3" r="7.8" fill="#acdbfe"/>
<circle cx="1221.99" cy="538.9" r="7.8" fill="#acdbfe"/>
<circle cx="1240.25" cy="540.3" r="7.8" fill="#acdbfe"/>
<circle cx="1258.51" cy="541.8" r="7.8" fill="#acdbfe"/>
<circle cx="1276.77" cy="539.9" r="7.8" fill="#acdbfe"/>
<circle cx="1295.02" cy="541.4" r="7.8" fill="#acdbfe"/>
<circle cx="1313.28" cy="547" r="7.8" fill="#acdbfe"/>
<circle cx="1331.54" cy="547.4" r="7.8" fill="#acdbfe"/>
<circle cx="1349.8" cy="542.4" r="7.8" fill="#acdbfe"/>
</g>
<rect x="132.5" y="11.6" width="529.5" height="551" fill="none" stroke="#000" stroke-width="2.5" stroke-linejoin="miter"/>
<rect x="820.3" y="11.4" width="529.5" height="551.4" fill="none" stroke="#000" stroke-width="2.5" stroke-linejoin="miter"/>
<line x1="132.5" y1="562.6" x2="132.5" y2="573.6" stroke="#000" stroke-width="2.5"/>
<text x="132.5" y="610.7" text-anchor="middle" class="t">0.0</text>
<line x1="344.3" y1="562.6" x2="344.3" y2="573.6" stroke="#000" stroke-width="2.5"/>
<text x="344.3" y="610.7" text-anchor="middle" class="t">0.1</text>
<line x1="556.1" y1="562.6" x2="556.1" y2="573.6" stroke="#000" stroke-width="2.5"/>
<text x="556.1" y="610.7" text-anchor="middle" class="t">0.2</text>
<line x1="820.3" y1="562.8" x2="820.3" y2="573.8" stroke="#000" stroke-width="2.5"/>
<text x="820.3" y="610.7" text-anchor="middle" class="t">0.0</text>
<line x1="1032.1" y1="562.8" x2="1032.1" y2="573.8" stroke="#000" stroke-width="2.5"/>
<text x="1032.1" y="610.7" text-anchor="middle" class="t">0.1</text>
<line x1="1243.9" y1="562.8" x2="1243.9" y2="573.8" stroke="#000" stroke-width="2.5"/>
<text x="1243.9" y="610.7" text-anchor="middle" class="t">0.2</text>
<line x1="121.5" y1="562.6" x2="132.5" y2="562.6" stroke="#000" stroke-width="2.5"/>
<text x="63.94" y="576" class="t">0.0</text>
<line x1="121.5" y1="449.52" x2="132.5" y2="449.52" stroke="#000" stroke-width="2.5"/>
<text x="63.94" y="462.92" class="t">0.2</text>
<line x1="121.5" y1="336.44" x2="132.5" y2="336.44" stroke="#000" stroke-width="2.5"/>
<text x="63.94" y="349.84" class="t">0.4</text>
<line x1="121.5" y1="223.36" x2="132.5" y2="223.36" stroke="#000" stroke-width="2.5"/>
<text x="63.94" y="236.76" class="t">0.6</text>
<line x1="121.5" y1="110.28" x2="132.5" y2="110.28" stroke="#000" stroke-width="2.5"/>
<text x="63.94" y="123.68" class="t">0.8</text>
<line x1="809.3" y1="562.8" x2="820.3" y2="562.8" stroke="#000" stroke-width="2.5"/>
<text x="733.64" y="576.2" class="t">0.00</text>
<line x1="809.3" y1="473.23" x2="820.3" y2="473.23" stroke="#000" stroke-width="2.5"/>
<text x="733.64" y="486.63" class="t">0.02</text>
<line x1="809.3" y1="383.67" x2="820.3" y2="383.67" stroke="#000" stroke-width="2.5"/>
<text x="733.64" y="397.07" class="t">0.04</text>
<line x1="809.3" y1="294.1" x2="820.3" y2="294.1" stroke="#000" stroke-width="2.5"/>
<text x="733.64" y="307.5" class="t">0.06</text>
<line x1="809.3" y1="204.54" x2="820.3" y2="204.54" stroke="#000" stroke-width="2.5"/>
<text x="733.64" y="217.94" class="t">0.08</text>
<line x1="809.3" y1="114.97" x2="820.3" y2="114.97" stroke="#000" stroke-width="2.5"/>
<text x="733.64" y="128.37" class="t">0.10</text>
<line x1="809.3" y1="25.4" x2="820.3" y2="25.4" stroke="#000" stroke-width="2.5"/>
<text x="733.64" y="38.8" class="t">0.12</text>
<line x1="335" y1="257" x2="426.8" y2="257" stroke="#033661" stroke-width="4.6"/>
<rect x="373.1" y="249.1" width="15.8" height="15.8" fill="#033661"/>
<path fill-rule="evenodd" d="M461.15 257.2 a13.45 9.55 0 1 0 26.9 0 a13.45 9.55 0 1 0 -26.9 0Z M465.75 257.2 a9.05 8.15 0 1 0 18.1 0 a9.05 8.15 0 1 0 -18.1 0Z"/>
<rect x="472.6" y="242.1" width="4" height="30.5"/>
<path d="M467.3 242.1L481.9 242.1L481.9 243.8Q477.6 243.8 476.6 245.5L472.6 245.5Q471.6 243.8 467.3 243.8Z"/>
<path d="M467.3 272.6L481.9 272.6L481.9 270.9Q477.6 270.9 476.6 269.2L472.6 269.2Q471.6 270.9 467.3 270.9Z"/>
<rect x="504.2" y="256.25" width="28.6" height="2.3" rx="1"/>
<rect x="504.2" y="264.15" width="28.6" height="2.3" rx="1"/>
<text x="546.95" y="272.4" class="lg">0.25</text>
<line x1="335" y1="317.7" x2="426.8" y2="317.7" stroke="#0e60a8" stroke-width="4.6"/>
<path d="M373.05 309.75L388.95 325.65M373.05 325.65L388.95 309.75" stroke="#0e60a8" stroke-width="3.1" fill="none"/>
<path fill-rule="evenodd" d="M461.15 317.9 a13.45 9.55 0 1 0 26.9 0 a13.45 9.55 0 1 0 -26.9 0Z M465.75 317.9 a9.05 8.15 0 1 0 18.1 0 a9.05 8.15 0 1 0 -18.1 0Z"/>
<rect x="472.6" y="302.8" width="4" height="30.5"/>
<path d="M467.3 302.8L481.9 302.8L481.9 304.5Q477.6 304.5 476.6 306.2L472.6 306.2Q471.6 304.5 467.3 304.5Z"/>
<path d="M467.3 333.3L481.9 333.3L481.9 331.6Q477.6 331.6 476.6 329.9L472.6 329.9Q471.6 331.6 467.3 331.6Z"/>
<rect x="504.2" y="316.95" width="28.6" height="2.3" rx="1"/>
<rect x="504.2" y="324.85" width="28.6" height="2.3" rx="1"/>
<text x="546.95" y="333.1" class="lg">0.20</text>
<line x1="335" y1="378.4" x2="426.8" y2="378.4" stroke="#1f83d8" stroke-width="4.6"/>
<path d="M381 369.5L389.3 386L372.7 386Z" fill="#1f83d8"/>
<path fill-rule="evenodd" d="M461.15 378.6 a13.45 9.55 0 1 0 26.9 0 a13.45 9.55 0 1 0 -26.9 0Z M465.75 378.6 a9.05 8.15 0 1 0 18.1 0 a9.05 8.15 0 1 0 -18.1 0Z"/>
<rect x="472.6" y="363.5" width="4" height="30.5"/>
<path d="M467.3 363.5L481.9 363.5L481.9 365.2Q477.6 365.2 476.6 366.9L472.6 366.9Q471.6 365.2 467.3 365.2Z"/>
<path d="M467.3 394L481.9 394L481.9 392.3Q477.6 392.3 476.6 390.6L472.6 390.6Q471.6 392.3 467.3 392.3Z"/>
<rect x="504.2" y="377.65" width="28.6" height="2.3" rx="1"/>
<rect x="504.2" y="385.55" width="28.6" height="2.3" rx="1"/>
<text x="546.95" y="393.8" class="lg">0.15</text>
<line x1="335" y1="439.1" x2="426.8" y2="439.1" stroke="#64b6fe" stroke-width="4.6"/>
<path d="M373.05 439.1L388.95 439.1M381 431.15L381 447.05" stroke="#64b6fe" stroke-width="3.5" fill="none"/>
<path fill-rule="evenodd" d="M461.15 439.3 a13.45 9.55 0 1 0 26.9 0 a13.45 9.55 0 1 0 -26.9 0Z M465.75 439.3 a9.05 8.15 0 1 0 18.1 0 a9.05 8.15 0 1 0 -18.1 0Z"/>
<rect x="472.6" y="424.2" width="4" height="30.5"/>
<path d="M467.3 424.2L481.9 424.2L481.9 425.9Q477.6 425.9 476.6 427.6L472.6 427.6Q471.6 425.9 467.3 425.9Z"/>
<path d="M467.3 454.7L481.9 454.7L481.9 453Q477.6 453 476.6 451.3L472.6 451.3Q471.6 453 467.3 453Z"/>
<rect x="504.2" y="438.35" width="28.6" height="2.3" rx="1"/>
<rect x="504.2" y="446.25" width="28.6" height="2.3" rx="1"/>
<text x="546.95" y="454.5" class="lg">0.10</text>
<line x1="335" y1="499.8" x2="426.8" y2="499.8" stroke="#acdbfe" stroke-width="4.6"/>
<circle cx="381" cy="499.8" r="7.8" fill="#acdbfe"/>
<path fill-rule="evenodd" d="M461.15 500 a13.45 9.55 0 1 0 26.9 0 a13.45 9.55 0 1 0 -26.9 0Z M465.75 500 a9.05 8.15 0 1 0 18.1 0 a9.05 8.15 0 1 0 -18.1 0Z"/>
<rect x="472.6" y="484.9" width="4" height="30.5"/>
<path d="M467.3 484.9L481.9 484.9L481.9 486.6Q477.6 486.6 476.6 488.3L472.6 488.3Q471.6 486.6 467.3 486.6Z"/>
<path d="M467.3 515.4L481.9 515.4L481.9 513.7Q477.6 513.7 476.6 512L472.6 512Q471.6 513.7 467.3 513.7Z"/>
<rect x="504.2" y="499.05" width="28.6" height="2.3" rx="1"/>
<rect x="504.2" y="506.95" width="28.6" height="2.3" rx="1"/>
<text x="546.95" y="515.2" class="lg">0.05</text>
<text x="-0.4" y="51.7" class="pl">a)</text>
<circle cx="6.4" cy="29.6" r="2.6"/>
<text x="685" y="52.1" class="pl">b)</text>
<g transform="translate(0,0)">
<path d="M394.6 630.4L398.7 629.9L392.2 658.5L388.1 658.5Z M390.9 631.0L395.6 630.3L395.3 632.4L391.2 632.2Z"/>
<path fill-rule="evenodd" d="M390.3 654.5 C390.5 645 396.5 641.6 400.6 642.2 C405.8 643 407.2 648.5 406.2 653 C404.8 660 399.5 666.5 394.5 666.5 C390.8 666.5 390.2 660 390.3 654.5Z M393.3 656.5 C393.5 650 397 644.6 400.2 644.8 C403 645 403.5 648.5 402.7 652.5 C401.8 657.5 398.3 663.8 395.3 663.8 C393.6 663.8 393.2 660 393.3 656.5Z"/>
</g>
<g transform="translate(688.3,0)">
<path d="M394.6 630.4L398.7 629.9L392.2 658.5L388.1 658.5Z M390.9 631.0L395.6 630.3L395.3 632.4L391.2 632.2Z"/>
<path fill-rule="evenodd" d="M390.3 654.5 C390.5 645 396.5 641.6 400.6 642.2 C405.8 643 407.2 648.5 406.2 653 C404.8 660 399.5 666.5 394.5 666.5 C390.8 666.5 390.2 660 390.3 654.5Z M393.3 656.5 C393.5 650 397 644.6 400.2 644.8 C403 645 403.5 648.5 402.7 652.5 C401.8 657.5 398.3 663.8 395.3 663.8 C393.6 663.8 393.2 660 393.3 656.5Z"/>
</g>
<path d="M6.3 289C7.15 288.82 9.6 287.83 11.4 287.9C13.2 287.97 15.18 288.62 17.1 289.4C19.02 290.18 21.27 291.5 22.9 292.6C24.53 293.7 25.95 294.87 26.9 296C27.85 297.13 28.37 298.35 28.6 299.4C28.83 300.45 28.78 301.35 28.3 302.3C27.82 303.25 26.8 304.48 25.7 305.1C24.6 305.72 23.13 306.08 21.7 306C20.27 305.92 18.82 305.22 17.1 304.6C15.38 303.98 13.02 302.97 11.4 302.3C9.78 301.63 8.45 300.7 7.4 300.6C6.35 300.5 5.62 301.03 5.1 301.7C4.58 302.37 4.2 303.55 4.3 304.6C4.4 305.65 4.9 307.1 5.7 308C6.5 308.9 7.95 309.52 9.1 310C10.25 310.48 12.02 310.75 12.6 310.9" fill="none" stroke="#000" stroke-width="1.5" stroke-linecap="round"/>
<path d="M28.3 302.3C27.87 302.77 26.8 304.48 25.7 305.1C24.6 305.72 23.13 306.08 21.7 306C20.27 305.92 18.82 305.22 17.1 304.6C15.38 303.98 13.02 302.97 11.4 302.3C9.78 301.63 8.07 300.88 7.4 300.6" fill="none" stroke="#000" stroke-width="3.3" stroke-linecap="round"/>
<path d="M26.9 296C27.18 296.57 28.37 298.35 28.6 299.4C28.83 300.45 28.35 301.82 28.3 302.3" fill="none" stroke="#000" stroke-width="2.3" stroke-linecap="round"/>
<circle cx="6.5" cy="289.6" r="2.4"/>
<path d="M11.3 273.3L35.8 279.2" stroke="#000" stroke-width="3" fill="none"/>
<path d="M11.4 277.2L11.4 259.5Q11.6 257.9 13.5 258.0L18.6 258.6" stroke="#000" stroke-width="1.7" fill="none"/>
<path d="M23.9 276L23.9 267.2" stroke="#000" stroke-width="1.5" fill="none"/>
<path d="M18.4 265.6L28.7 267.6" stroke="#000" stroke-width="1.4" fill="none"/>
<path d="M36.4 273.2L36.4 284.8" stroke="#000" stroke-width="1.7" fill="none"/>
<path d="M675.9 292.2C676.75 292.02 679.2 291.03 681 291.1C682.8 291.17 684.78 291.82 686.7 292.6C688.62 293.38 690.87 294.7 692.5 295.8C694.13 296.9 695.55 298.07 696.5 299.2C697.45 300.33 697.97 301.55 698.2 302.6C698.43 303.65 698.38 304.55 697.9 305.5C697.42 306.45 696.4 307.68 695.3 308.3C694.2 308.92 692.73 309.28 691.3 309.2C689.87 309.12 688.42 308.42 686.7 307.8C684.98 307.18 682.62 306.17 681 305.5C679.38 304.83 678.05 303.9 677 303.8C675.95 303.7 675.22 304.23 674.7 304.9C674.18 305.57 673.8 306.75 673.9 307.8C674 308.85 674.5 310.3 675.3 311.2C676.1 312.1 677.55 312.72 678.7 313.2C679.85 313.68 681.62 313.95 682.2 314.1" fill="none" stroke="#000" stroke-width="1.5" stroke-linecap="round"/>
<path d="M697.9 305.5C697.47 305.97 696.4 307.68 695.3 308.3C694.2 308.92 692.73 309.28 691.3 309.2C689.87 309.12 688.42 308.42 686.7 307.8C684.98 307.18 682.62 306.17 681 305.5C679.38 304.83 677.67 304.08 677 303.8" fill="none" stroke="#000" stroke-width="3.3" stroke-linecap="round"/>
<path d="M696.5 299.2C696.78 299.77 697.97 301.55 698.2 302.6C698.43 303.65 697.95 305.02 697.9 305.5" fill="none" stroke="#000" stroke-width="2.3" stroke-linecap="round"/>
<circle cx="676.1" cy="292.8" r="2.4"/>
<path fill-rule="evenodd" d="M678.2 274L707.3 259.6L707.3 288.1Z M683.7 275.2L704.7 285.4L704.7 264.8Z"/>
</svg>
</body></html>
